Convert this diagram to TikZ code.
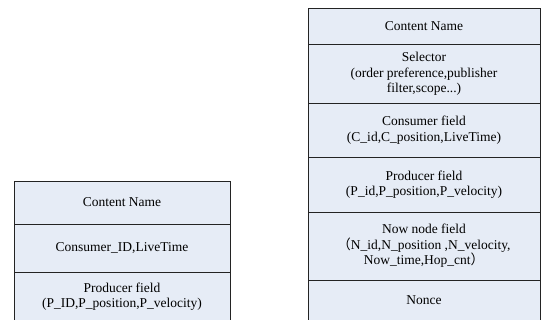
\documentclass[tikz,border=0pt]{standalone}
\usepackage{fontspec}
\setmainfont{Liberation Serif}
\newfontfamily\cjk{Noto Sans CJK SC}
\usetikzlibrary{positioning}
\definecolor{pktfill}{RGB}{230,236,246}
\definecolor{pktline}{RGB}{35,35,35}
\tikzset{
  field/.style={draw=pktline, fill=pktfill, line width=0.8pt, inner sep=0pt,
    outer sep=0pt, align=center, font=\fontsize{13.5}{15.5}\selectfont},
  lfield/.style={field, minimum width=216pt},
  rfield/.style={field, minimum width=232pt}
}

\begin{document}
\begin{tikzpicture}[x=1pt, y=-1pt]
\useasboundingbox (0,0) rectangle (541,320);
\clip (0,0) rectangle (541,320);
% Interest packet (left)
\node[lfield, minimum height=43pt, anchor=north west] (iname) at (14,181) {Content Name};
\node[lfield, minimum height=48pt, below=0pt of iname] (iconsumer) {Consumer\_ID,LiveTime};
\node[lfield, minimum height=49pt, below=0pt of iconsumer] (iproducer)
  {Producer field\\(P\_ID,P\_position,P\_velocity)};
% Data packet (right)
\node[rfield, minimum height=36.7pt, anchor=north west] (dname) at (308,8) {Content Name};
\node[rfield, minimum height=58.3pt, below=0pt of dname] (dselector)
  {Selector\\(order preference,publisher\\filter,scope...)};
\node[rfield, minimum height=54pt, below=0pt of dselector] (dconsumer)
  {Consumer field\\(C\_id,C\_position,LiveTime)};
\node[rfield, minimum height=55pt, below=0pt of dconsumer] (dproducer)
  {Producer field\\(P\_id,P\_position,P\_velocity)};
\node[rfield, minimum height=68pt, below=0pt of dproducer] (dnow)
  {Now node field\\{\cjk （}N\_id,N\_position ,N\_velocity,\\Now\_time,Hop\_cnt{\cjk ）}};
\node[rfield, minimum height=41pt, below=0pt of dnow] (dnonce) {Nonce};
\end{tikzpicture}
\end{document}
